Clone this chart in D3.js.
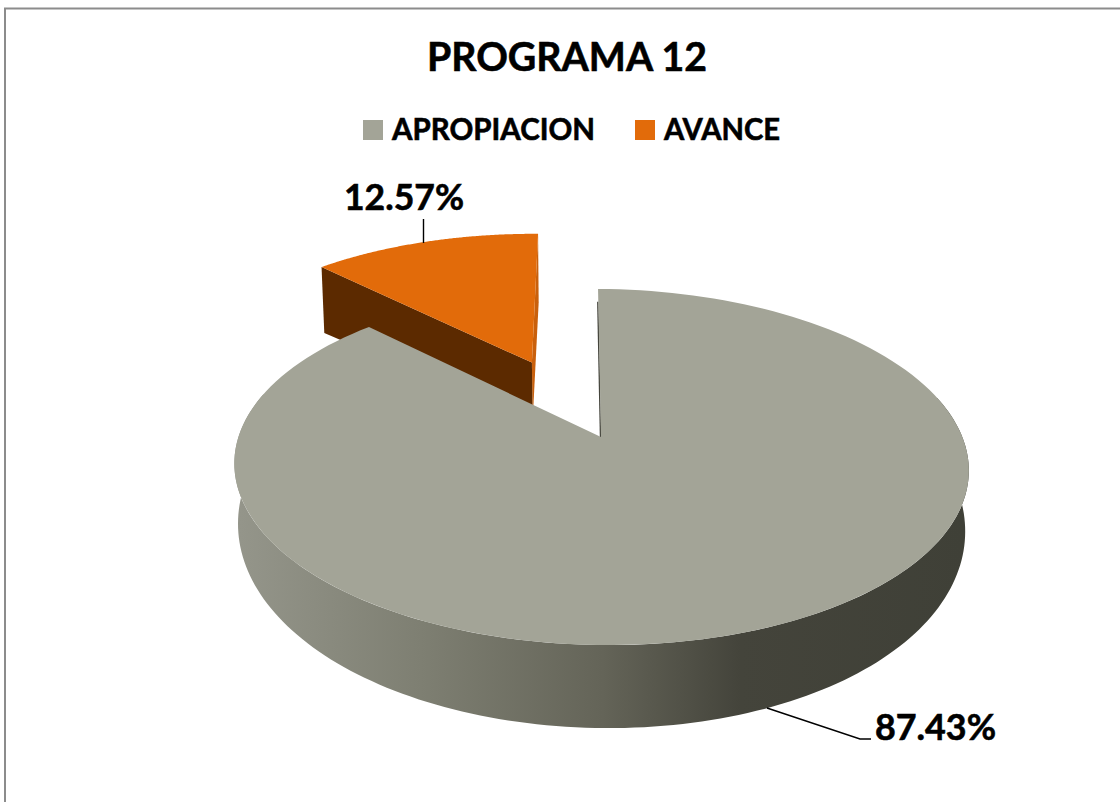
<!DOCTYPE html>
<html>
<head>
    <meta charset="utf-8" />
    <script src="https://d3js.org/d3.v7.min.js"></script>
    <title>PROGRAMA 12</title>
    <style>
        html, body { margin: 0; padding: 0; background: #fff; }
        svg { display: block; }
        text { font-family: Lato, "Open Sans", sans-serif; font-weight: 700; fill: #000; stroke: #000; stroke-width: 0.6px; }
    </style>
</head>
<body>
    <svg id="chart"></svg>
    <script type="text/javascript">
        const categories = ["APROPIACION", "AVANCE"];
        const values = [87.43, 12.57];
        const valueLabels = ["87.43%", "12.57%"];
        const explode = [0, 0.5];
        const colors = ["#a3a497", "#e26b0a"];
        const title = "PROGRAMA 12";

        const width = 1120, height = 802;
        const svg = d3.select("#chart").attr("width", width).attr("height", height);

        // chart area border, only top and left show in the picture
        svg.append("path").attr("d", "M5,802V8.5H1120").attr("fill", "none")
            .attr("stroke", "#8c8c8c").attr("stroke-width", 2);

        svg.append("text").attr("x", 567).attr("y", 71).attr("text-anchor", "middle")
            .attr("font-size", 41).attr("textLength", 280).attr("lengthAdjust", "spacingAndGlyphs")
            .text(title);

        // legend
        const legendX = [363, 635], legendTextX = [392, 664], legendTextW = [203, 116];
        categories.forEach(function (c, i) {
            svg.append("rect").attr("x", legendX[i]).attr("y", 120)
                .attr("width", 20).attr("height", 20).attr("fill", colors[i]);
            svg.append("text").attr("x", legendTextX[i]).attr("y", 140)
                .attr("font-size", 30).attr("textLength", legendTextW[i])
                .attr("lengthAdjust", "spacingAndGlyphs").text(c);
        });

        // Excel style 3D pie: disc coords (u right, v towards viewer) go through a perspective
        const cx = 601, cy = 437, R = 362, persp = 0.1685, squash = 173;
        function project(u, v, low) {
            const w = 1 - persp * v;
            let x = cx + R * u / w;
            let y = cy + squash * v / w;
            x += 0.02 * (y - cy);
            y += 0.005 * (x - cx);
            if (low) {
                x = cx + (x - cx) * 0.99;
                y += v >= 0 ? 56 + 27 * v : 56 - 8.6 * v;
            }
            return [x, y];
        }

        const pie = d3.pie().sort(null);
        const arcs = pie(values);
        const line = d3.line();
        const steps = 160;

        function sliceInfo(a, i) {
            const mid = (a.startAngle + a.endAngle) / 2;
            return { ou: Math.sin(mid) * explode[i], ov: -Math.cos(mid) * explode[i], a: a };
        }
        function rimPoint(s, t, low) {
            return project(s.ou + Math.sin(t), s.ov - Math.cos(t), low);
        }
        function face(s, low) {
            const pts = [project(s.ou, s.ov, low)];
            d3.range(steps + 1).forEach(function (k) {
                pts.push(rimPoint(s, s.a.startAngle + (s.a.endAngle - s.a.startAngle) * k / steps, low));
            });
            return line(pts) + "Z";
        }
        // wall between top and bottom of a radial cut
        function wall(s, t) {
            return line([project(s.ou, s.ov, false), rimPoint(s, t, false), rimPoint(s, t, true), project(s.ou, s.ov, true)]) + "Z";
        }

        const main = sliceInfo(arcs[0], 0);
        const avance = sliceInfo(arcs[1], 1);

        // AVANCE slice first, the big one covers its foot
        const avanceG = svg.append("g").attr("transform", "translate(-3,0)");
        avanceG.append("path").attr("d", wall(avance, avance.a.endAngle)).attr("fill", "#c9600c");
        avanceG.append("path").attr("d", wall(avance, avance.a.startAngle)).attr("fill", "#5c2a00");
        avanceG.append("path").attr("d", face(avance, false)).attr("fill", colors[1]);

        // side gradient of the big slice
        const defs = svg.append("defs");
        const grad = defs.append("linearGradient").attr("id", "side")
            .attr("gradientUnits", "userSpaceOnUse")
            .attr("x1", 240).attr("x2", 965).attr("y1", 0).attr("y2", 0);
        [[0, "#94958a"], [0.25, "#7e7f72"], [0.5, "#646458"], [0.69, "#44443b"], [1, "#3f4037"]]
            .forEach(function (d) {
                grad.append("stop").attr("offset", d[0]).attr("stop-color", d[1]);
            });

        // outline swept between top rim and bottom rim, front half only
        const sidePts = [];
        const frontAngles = d3.range(steps + 1).map(function (k) { return Math.PI * 0.42 + Math.PI * 1.16 * k / steps; });
        frontAngles.forEach(function (t) { sidePts.push(rimPoint(main, t, false)); });
        frontAngles.slice().reverse().forEach(function (t) { sidePts.push(rimPoint(main, t, true)); });
        svg.append("path").attr("d", line(sidePts) + "Z").attr("fill", "url(#side)");

        // thin dark inner wall at the gap
        const wallTop = project(0, -0.9, false), wallEnd = project(0, 0, false);
        svg.append("path").attr("d", line([[wallTop[0] - 0.5, wallTop[1]], [wallEnd[0] - 0.5, wallEnd[1]]]))
            .attr("stroke", "#44443c").attr("stroke-width", 1.4).attr("fill", "none");

        svg.append("path").attr("d", face(main, false)).attr("fill", colors[0]);

        // data labels and leader lines
        svg.append("path").attr("d", "M423.5,219V243").attr("stroke", "#000").attr("stroke-width", 1.4).attr("fill", "none");
        svg.append("path").attr("d", "M767,708L860,739H871").attr("stroke", "#000").attr("stroke-width", 1.4).attr("fill", "none");
        svg.append("text").attr("x", 344).attr("y", 210).attr("font-size", 37)
            .attr("textLength", 120).attr("lengthAdjust", "spacingAndGlyphs").text(valueLabels[1]);
        svg.append("text").attr("x", 875).attr("y", 739.5).attr("font-size", 37)
            .attr("textLength", 121).attr("lengthAdjust", "spacingAndGlyphs").text(valueLabels[0]);
    </script>
</body>
</html>
